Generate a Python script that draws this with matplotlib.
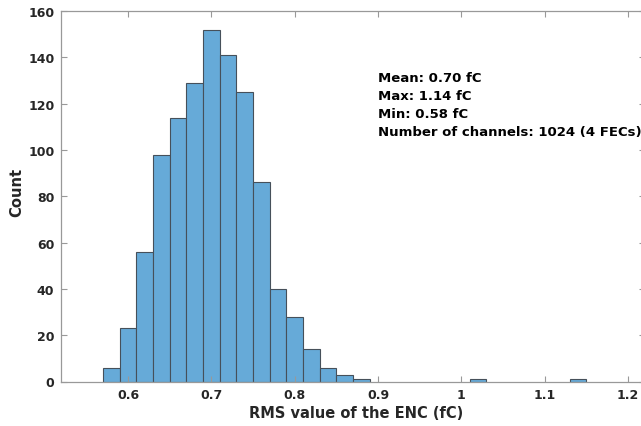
import matplotlib
matplotlib.use("Agg")
import matplotlib.pyplot as plt

# histogram of the per-channel ENC rms values, 0.02 fC bins
bin_lefts = [0.57, 0.59, 0.61, 0.63, 0.65, 0.67, 0.69, 0.71, 0.73, 0.75,
             0.77, 0.79, 0.81, 0.83, 0.85, 0.87, 1.01, 1.13]
counts = [6, 23, 56, 98, 114, 129, 152, 141, 125, 86,
          40, 28, 14, 6, 3, 1, 1, 1]
bin_width = 0.02

xtick_vals = [0.6, 0.7, 0.8, 0.9, 1.0, 1.1, 1.2]
xtick_labels = ['0.6', '0.7', '0.8', '0.9', '1', '1.1', '1.2']
ytick_vals = [0, 20, 40, 60, 80, 100, 120, 140, 160]

stats_lines = [
    "Mean: 0.70 fC",
    "Max: 1.14 fC",
    "Min: 0.58 fC",
    "Number of channels: 1024 (4 FECs)",
]

plt.rcParams['font.family'] = ['DejaVu Sans']
plt.rcParams['font.weight'] = 'bold'

W, H = 641, 427
fig = plt.figure(figsize=(W / 100, H / 100), dpi=100)
ax_left, ax_right = 61.3, 644.7
ax_top, ax_bottom = 12, 382.5
ax = fig.add_axes([ax_left / W, 1 - ax_bottom / H,
                   (ax_right - ax_left) / W, (ax_bottom - ax_top) / H])

ax.bar(bin_lefts, counts, width=bin_width, align='edge', color='#66aad8',
       edgecolor='#46505a', linewidth=0.8)

ax.set_xlim(0.52, 1.22)
ax.set_ylim(0, 160)
ax.set_xticks(xtick_vals)
ax.set_xticklabels(xtick_labels)
ax.set_yticks(ytick_vals)

ax.tick_params(direction='in', top=True, right=True, length=4, width=0.8,
               colors='#999999', labelcolor='#262626', labelsize=9, pad=5)
for s in ax.spines.values():
    s.set_color('#999999')
    s.set_linewidth(0.9)
for lab in ax.get_xticklabels() + ax.get_yticklabels():
    lab.set_fontweight('bold')

ax.set_xlabel('RMS value of the ENC (fC)', fontsize=10.5, fontweight='bold',
              color='#262626')
ax.xaxis.label.set_va('baseline')
ax.xaxis.set_label_coords((356.5 - ax_left) / (ax_right - ax_left),
                          (ax_bottom - 418.5) / (ax_bottom - ax_top))

ax.set_ylabel('Count', fontsize=10.6, fontweight='bold', color='#262626')
ax.yaxis.label.set_va('center')
ax.yaxis.label.set_ha('center')
ax.yaxis.set_label_coords((17 - ax_left) / (ax_right - ax_left),
                          (ax_bottom - 192.5) / (ax_bottom - ax_top))

# stats box text, one line every 18 px
for i, line in enumerate(stats_lines):
    fig.text(378 / W, 1 - (81.7 + 18 * i) / H, line, fontsize=9.5,
             fontweight='bold', color='black', va='baseline', ha='left')

fig.savefig('out.png', dpi=100)
